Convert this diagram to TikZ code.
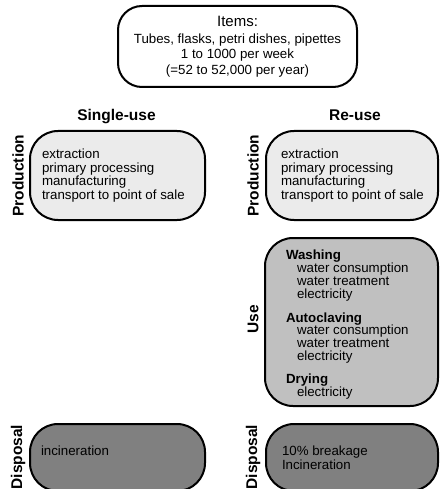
\documentclass[tikz,border=0pt]{standalone}
\usepackage{fontspec}
\setmainfont{Liberation Sans}
\definecolor{grey@prod}{RGB}{235, 235, 235}
\definecolor{grey@use}{RGB}{192, 192, 192}
\definecolor{grey@disp}{RGB}{128, 128, 128}

\begin{document}
\begin{tikzpicture}[x=1pt, y=-1pt, line width=2pt]
  \tikzstyle{box}=[draw=black, rounded corners=28pt, inner sep=0pt]
  \tikzstyle{box_text}=[anchor=west, align=left, inner sep=0pt, font=\fontsize{13.3}{13.5}\selectfont]
  \tikzstyle{side_label}=[rotate=90, inner sep=0pt, font=\fontsize{15.5}{16}\selectfont\bfseries]
  \tikzstyle{head_label}=[anchor=base, inner sep=0pt, font=\fontsize{15.5}{16}\selectfont\bfseries]

  \useasboundingbox (0,0) rectangle (439,489);

  % constants
  \def \ColS {117.5}
  \def \ColR {352}
  \def \SideS {18}
  \def \SideR {253}

  % item box on top
  \node[box, align=center, rounded corners=24pt, minimum width=239pt, minimum height=81pt,
        font=\fontsize{13.3}{15.5}\selectfont]
    (items) at (237.5, 46.5)
    {{\fontsize{15}{15.5}\selectfont Items:}\\[1pt]
     Tubes, flasks, petri dishes, pipettes\\
     1 to 1000 per week\\
     (=52 to 52,000 per year)};

  % column heads
  \node[head_label] (single) at (116.5, 121) {Single-use};
  \node[head_label] (reuse) at (355, 121) {Re-use};

  % the boxes
  \foreach \pos/\name/\w/\h/\col in
    {
      {(\ColS, 175.5)/prod_s/175/89/grey@prod},
      {(\ColR, 175.5)/prod_r/172/89/grey@prod},
      {(351.5, 322)/use_r/173/168/grey@use},
      {(\ColS, 457.5)/disp_s/175/67/grey@disp},
      {(\ColR, 457.5)/disp_r/172/67/grey@disp}%
    }
    \node[box, fill=\col, minimum width=\w pt, minimum height=\h pt] (\name) at \pos {};

  % texts in the boxes
  \node[box_text] (prod_s_txt) at ([xshift=12pt]prod_s.west)
    {extraction\\ primary processing\\ manufacturing\\ transport to point of sale};
  \node[box_text] (prod_r_txt) at ([xshift=15pt]prod_r.west)
    {extraction\\ primary processing\\ manufacturing\\ transport to point of sale};
  \node[box_text, font=\fontsize{13.3}{12.8}\selectfont] (use_r_txt) at ([xshift=21pt, yshift=-2.5pt]use_r.west)
    {\textbf{Washing}\\
     \hspace*{11pt}water consumption\\
     \hspace*{11pt}water treatment\\
     \hspace*{11pt}electricity\\[11pt]
     \textbf{Autoclaving}\\
     \hspace*{11pt}water consumption\\
     \hspace*{11pt}water treatment\\
     \hspace*{11pt}electricity\\[10pt]
     \textbf{Drying}\\
     \hspace*{11pt}electricity};
  \node[box_text] (disp_s_txt) at ([xshift=11pt, yshift=7pt]disp_s.west) {incineration};
  \node[box_text] (disp_r_txt) at ([xshift=16pt]disp_r.west) {10\% breakage\\ Incineration};

  % side labels
  \foreach \pos/\name/\txt in
    {
      {(\SideS, 175.5)/lab_prod_s/Production},
      {(\SideR, 175.5)/lab_prod_r/Production},
      {(\SideR, 319)/lab_use_r/Use},
      {(\SideS, 457)/lab_disp_s/Disposal},
      {(\SideR, 457)/lab_disp_r/Disposal}%
    }
    \node[side_label] (\name) at \pos {\txt};

\end{tikzpicture}
\end{document}
